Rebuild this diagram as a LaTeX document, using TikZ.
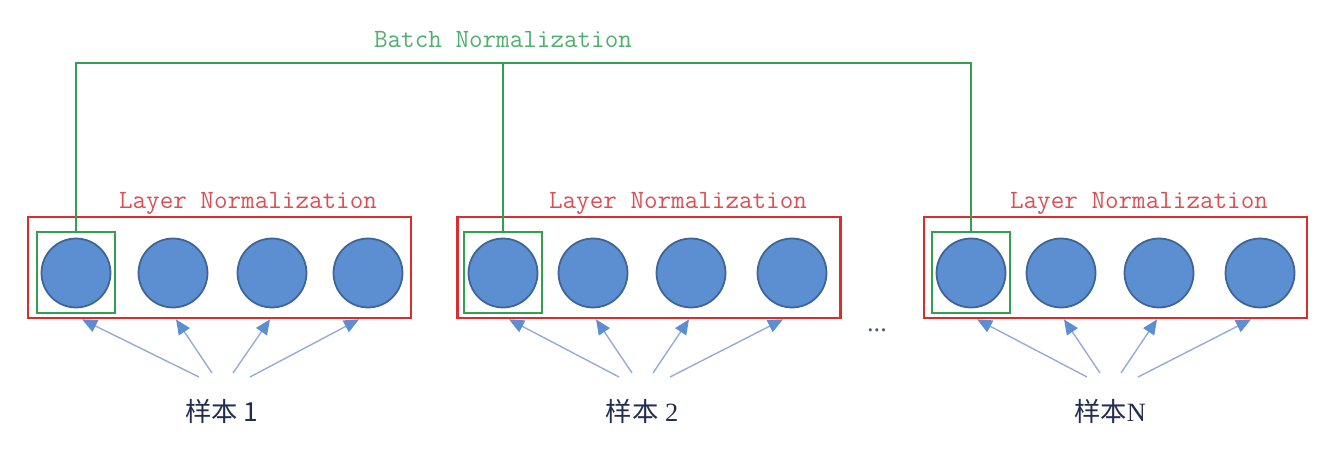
\documentclass[tikz,border=0pt]{standalone}
\usepackage{fontspec}
\setmainfont{Liberation Serif}
\newfontfamily\monofont{Latin Modern Mono}
\newfontfamily\cjkfont{Noto Sans CJK SC}
\usetikzlibrary{calc}
\usetikzlibrary{arrows.meta}
\tikzset{>=latex}
\definecolor{myred}{RGB}{218,45,45}
\definecolor{mylightred}{RGB}{215,80,85}
\definecolor{mygreen}{RGB}{50,160,80}
\definecolor{mylightgreen}{RGB}{80,175,110}
\definecolor{myblue}{RGB}{91,143,210}
\definecolor{mydarkblue}{RGB}{62,100,150}
\definecolor{myarrow}{RGB}{150,172,215}
\definecolor{mynavy}{RGB}{35,45,80}
\tikzset{
  neuron/.style={circle, draw=mydarkblue, fill=myblue, line width=1pt, minimum size=1.38cm, inner sep=0pt},
  lnbox/.style={draw=myred, line width=1.3pt, minimum width=7.66cm, minimum height=2.02cm, inner sep=0pt},
  bnbox/.style={draw=mygreen, line width=1.1pt, minimum width=1.56cm, minimum height=1.62cm, inner sep=0pt},
  bnline/.style={draw=mygreen, line width=1.1pt},
  lntext/.style={text=mylightred, font=\monofont\fontsize{15}{15}\selectfont, anchor=base, inner sep=0pt},
  bntext/.style={text=mylightgreen, font=\monofont\fontsize{15}{15}\selectfont, anchor=base, inner sep=0pt},
  sample/.style={text=mynavy, font=\fontsize{15}{15}\selectfont, anchor=base, inner sep=0pt},
  feed/.style={draw=myarrow, line width=0.8pt, -{Triangle[length=0.3cm, width=0.26cm, color=myblue]}}
}

\begin{document}
\begin{tikzpicture}[x=0.02cm, y=-0.02cm]
    \useasboundingbox (0,0) rectangle (1334,472);

    % samples, one red box each
    \node[lnbox] (ln1) at (219.5,267.5) {};
    \node[lnbox] (ln2) at (649,267.5) {};
    \node[lnbox] (ln3) at (1115.5,267.5) {};
    \node[lntext] (lnlabel1) at (248,209) {Layer Normalization};
    \node[lntext] (lnlabel2) at (678,209) {Layer Normalization};
    \node[lntext] (lnlabel3) at (1139,209) {Layer Normalization};

    \foreach \g/\xa/\xb/\xc/\xd in {1/76/173/272/368, 2/503/593/691/792, 3/971/1061/1159/1260} {
        \node[neuron] (n\g-1) at (\xa,273) {};
        \node[neuron] (n\g-2) at (\xb,273) {};
        \node[neuron] (n\g-3) at (\xc,273) {};
        \node[neuron] (n\g-4) at (\xd,273) {};
        \node[bnbox] (bn\g) at (\xa,272.5) {};
    }

    \node[sample] (s1) at (222,421) {{\cjkfont 样本 1}};
    \node[sample] (s2) at (642,421) {{\cjkfont 样本} 2};
    \node[sample] (s3) at (1110,421) {{\cjkfont 样本}N};
    \node[text=mynavy!80, font=\fontsize{15}{15}\selectfont] (dots) at (877,330) {...};

    \foreach \g in {1,2,3} {
        \draw[feed] ($(s\g.base)+(-23,-44)$) -- ($(n\g-1.south)+(6,11)$);
        \draw[feed] ($(s\g.base)+(-10,-48)$) -- ($(n\g-2.south)+(3,11)$);
        \draw[feed] ($(s\g.base)+(11,-48)$) -- ($(n\g-3.south)+(-2,11)$);
        \draw[feed] ($(s\g.base)+(28,-44)$) -- ($(n\g-4.south)+(-9,11)$);
    }

    % batch normalization across samples
    \coordinate (bntop) at (503,63);
    \draw[bnline] (bn1.north) -- (bn1.north |- bntop) -- (bn3.north |- bntop) -- (bn3.north);
    \draw[bnline] (bn2.north) -- (bn2.north |- bntop);
    \node[bntext] (bnlabel) at (503,48) {Batch Normalization};

\end{tikzpicture}
\end{document}
